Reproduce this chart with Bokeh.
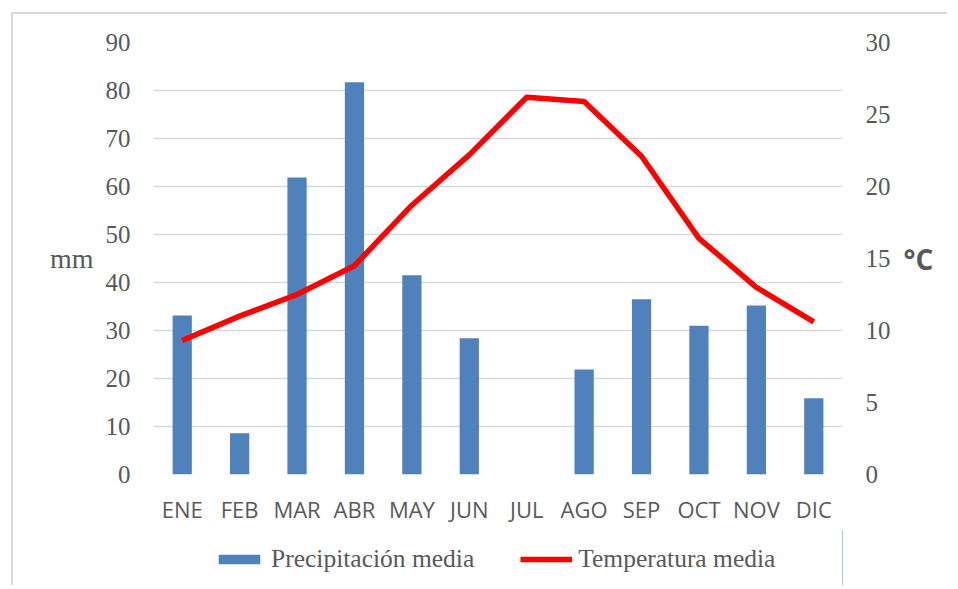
from bokeh.plotting import figure
from bokeh.layouts import column
from bokeh.models import (FactorRange, Range1d, LinearAxis, FixedTicker, Legend,
                          LegendItem, ColumnDataSource)
from bokeh.embed import file_html
from bokeh.resources import INLINE

months = ["ENE", "FEB", "MAR", "ABR", "MAY", "JUN", "JUL", "AGO", "SEP", "OCT", "NOV", "DIC"]
precip = [33.1, 8.6, 61.9, 81.7, 41.5, 28.4, 0.0, 21.9, 36.5, 31.0, 35.2, 15.9]
temp = [9.3, 11.0, 12.5, 14.5, 18.7, 22.2, 26.2, 25.9, 22.1, 16.4, 13.0, 10.6]
precip_ticks = [0, 10, 20, 30, 40, 50, 60, 70, 80, 90]
temp_ticks = [0, 5, 10, 15, 20, 25, 30]
series_names = ["Precipitación media", "Temperatura media"]

GREY = "#595959"
SERIF = "Liberation Serif"
SANS = "Open Sans"
BLUE = "#4f81bd"
RED = "#ff0000"

src = ColumnDataSource(dict(m=months, p=precip, t=temp))

p = figure(x_range=FactorRange(*months, range_padding=0), y_range=Range1d(0, 90),
           width=934, height=515, output_backend="svg", toolbar_location=None,
           min_border_left=140, min_border_right=105, min_border_top=28,
           min_border_bottom=55)
p.outline_line_color = None
p.extra_y_ranges = {"temp": Range1d(0, 30)}

bars = p.vbar(x="m", top="p", width=0.335, source=src, fill_color=BLUE, line_color=None)
line = p.line(x="m", y="t", source=src, y_range_name="temp", line_color=RED,
              line_width=5.5, line_join="round")

ya = p.yaxis[0]
ya.ticker = FixedTicker(ticks=precip_ticks)
ya.axis_label = "mm"
ya.axis_label_orientation = "horizontal"
ya.axis_label_text_font = SERIF
ya.axis_label_text_font_style = "normal"
ya.axis_label_text_font_size = "28px"
ya.axis_label_text_color = GREY
ya.axis_label_standoff = 9

ra = LinearAxis(y_range_name="temp", ticker=FixedTicker(ticks=temp_ticks))
ra.axis_label = "°C"
ra.axis_label_orientation = "horizontal"
ra.axis_label_text_font = SANS
ra.axis_label_text_font_style = "bold"
ra.axis_label_text_font_size = "28px"
ra.axis_label_text_color = GREY
ra.axis_label_standoff = 10
p.add_layout(ra, "right")

for ax in (ya, ra):
    ax.major_label_text_font = SERIF
    ax.major_label_text_font_size = "25px"
    ax.major_label_text_color = GREY
    ax.major_label_standoff = 17
    ax.axis_line_color = None
    ax.major_tick_line_color = None
    ax.minor_tick_line_color = None

xa = p.xaxis[0]
xa.major_label_text_font = SANS
xa.major_label_text_font_size = "22px"
xa.major_label_text_color = GREY
xa.major_label_standoff = 13
xa.axis_line_color = None
xa.major_tick_line_color = None
xa.minor_tick_line_color = None

p.xgrid.grid_line_color = None
p.ygrid.ticker = FixedTicker(ticks=precip_ticks)
p.ygrid.grid_line_color = "#d9d9d9"
p.ygrid.grid_line_width = 1.5

# legend strip below the chart (its frame is aligned with the chart's frame)
p2 = figure(x_range=Range1d(0, 1), y_range=Range1d(0, 1), width=934, height=56,
            output_backend="svg", toolbar_location=None, min_border=0)
p2.axis.visible = False
p2.grid.grid_line_color = None
p2.outline_line_color = None
# legend proxies: one point placed outside the visible range
proxy = ColumnDataSource(dict(x=[5, 6], y=[5, 5], top=[5, 5]))
lb = p2.vbar(x="x", top="top", width=0.1, source=proxy, fill_color=BLUE, line_color=None)
ll = p2.line(x="x", y="y", source=proxy, line_color=RED, line_width=5.5)

legend = Legend(items=[LegendItem(label=series_names[0], renderers=[lb]),
                       LegendItem(label=series_names[1], renderers=[ll])],
                orientation="horizontal", location=(60, 11),
                label_text_font=SERIF, label_text_font_size="25.5px",
                label_text_color=GREY, glyph_width=52, glyph_height=12,
                label_standoff=6, spacing=46, border_line_color=None,
                background_fill_alpha=0, padding=0, margin=0)
p2.add_layout(legend)

layout = column(p, p2, spacing=0)
layout.margin = (12, 0, 0, 11)
layout.styles = {"border-left": "2px solid #d9d9d9", "border-top": "2px solid #d9d9d9"}

open("out.html", "w").write(file_html(layout, INLINE))
